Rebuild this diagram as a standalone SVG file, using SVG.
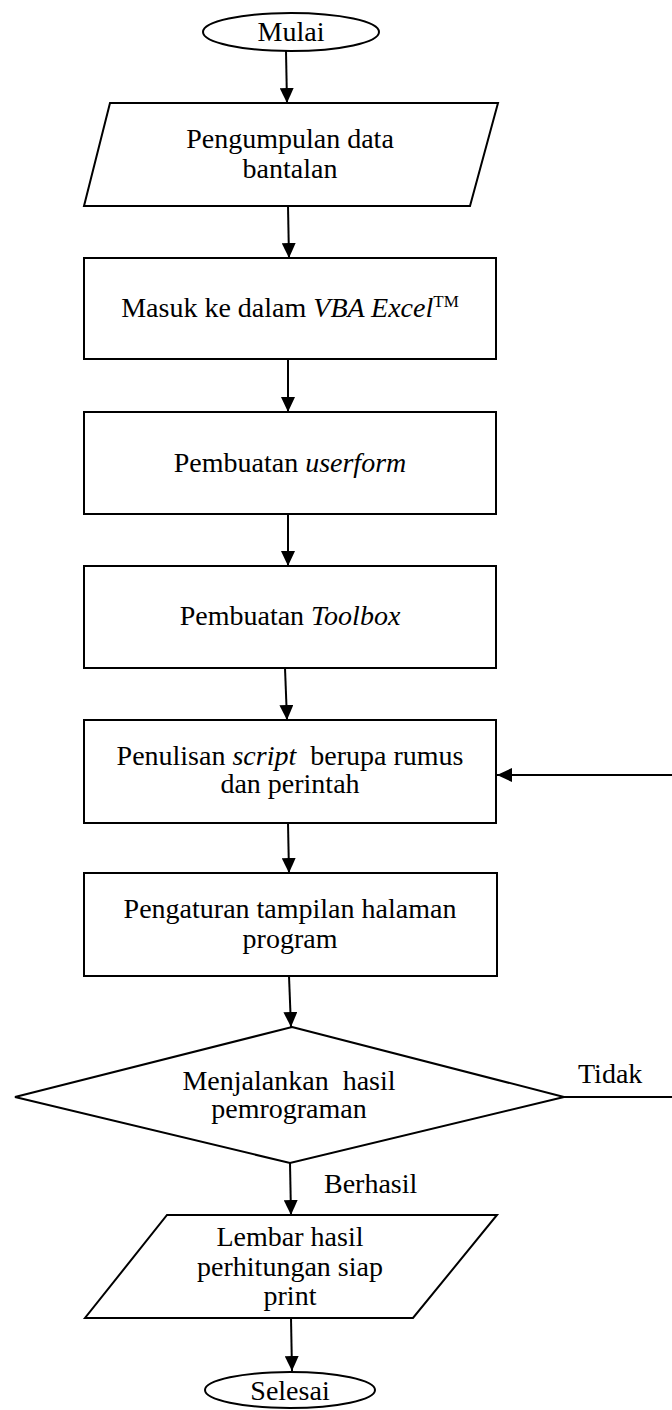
<svg xmlns="http://www.w3.org/2000/svg" width="672" height="1410" viewBox="0 0 672 1410">
<style>
.s{fill:#fff;stroke:#000;stroke-width:2}
.c{fill:none;stroke:#000;stroke-width:2}
text{font-family:"Liberation Serif","Times New Roman",serif;font-size:28px;fill:#000;text-anchor:middle;white-space:pre}
.i{font-style:italic}
.l{text-anchor:start}
</style>
<defs>
<marker id="a" markerUnits="userSpaceOnUse" markerWidth="15" markerHeight="14" refX="15" refY="7" orient="auto">
<path d="M0,0 L15,7 L0,14 Z" fill="#000"/>
</marker>
</defs>
<rect width="672" height="1410" fill="#fff"/>
<g id="connectors">
<line class="c" x1="286" y1="51" x2="287" y2="103" marker-end="url(#a)"/>
<line class="c" x1="288" y1="206" x2="289" y2="258" marker-end="url(#a)"/>
<line class="c" x1="288" y1="359" x2="288" y2="412" marker-end="url(#a)"/>
<line class="c" x1="288" y1="514" x2="288" y2="566" marker-end="url(#a)"/>
<line class="c" x1="285" y1="668" x2="287" y2="720" marker-end="url(#a)"/>
<line class="c" x1="288" y1="823" x2="289" y2="873" marker-end="url(#a)"/>
<line class="c" x1="289" y1="976" x2="291" y2="1027" marker-end="url(#a)"/>
<line class="c" x1="290" y1="1163" x2="291" y2="1215" marker-end="url(#a)"/>
<line class="c" x1="291" y1="1318" x2="292" y2="1371" marker-end="url(#a)"/>
<line class="c" x1="564" y1="1097" x2="672" y2="1097"/>
<line class="c" x1="672" y1="775" x2="497" y2="775" marker-end="url(#a)"/>
<text class="l" x="578" y="1083">Tidak</text>
<text class="l" x="324" y="1193">Berhasil</text>
</g>
<g id="mulai">
<ellipse class="s" cx="291" cy="32" rx="88" ry="19"/>
<text x="291" y="41">Mulai</text>
</g>
<g id="pengumpulan">
<polygon class="s" points="110,103 498,103 470,206 84,206"/>
<text x="290" y="148">Pengumpulan data</text>
<text x="290" y="178">bantalan</text>
</g>
<g id="masuk">
<rect class="s" x="84" y="258" width="412" height="101"/>
<text x="290" y="317">Masuk ke dalam <tspan class="i">VBA Excel</tspan><tspan font-size="17" dy="-10">TM</tspan></text>
</g>
<g id="userform">
<rect class="s" x="84" y="412" width="412" height="102"/>
<text x="290" y="472">Pembuatan <tspan class="i">userform</tspan></text>
</g>
<g id="toolbox">
<rect class="s" x="84" y="566" width="412" height="102"/>
<text x="290" y="625">Pembuatan <tspan class="i">Toolbox</tspan></text>
</g>
<g id="penulisan">
<rect class="s" x="84" y="720" width="412" height="103"/>
<text x="290" y="765">Penulisan <tspan class="i">script</tspan>  berupa rumus</text>
<text x="290" y="793">dan perintah</text>
</g>
<g id="pengaturan">
<rect class="s" x="84" y="873" width="413" height="103"/>
<text x="290" y="918">Pengaturan tampilan halaman</text>
<text x="290" y="948">program</text>
</g>
<g id="menjalankan">
<polygon class="s" points="292,1027 564,1097 290,1163 15,1097"/>
<text x="289" y="1090">Menjalankan  hasil</text>
<text x="289" y="1118">pemrograman</text>
</g>
<g id="lembar">
<polygon class="s" points="167,1215 497,1215 413,1318 85,1318"/>
<text x="290" y="1246">Lembar hasil</text>
<text x="290" y="1276">perhitungan siap</text>
<text x="290" y="1305">print</text>
</g>
<g id="selesai">
<ellipse class="s" cx="290" cy="1390" rx="85" ry="18"/>
<text x="290" y="1400">Selesai</text>
</g>
</svg>
